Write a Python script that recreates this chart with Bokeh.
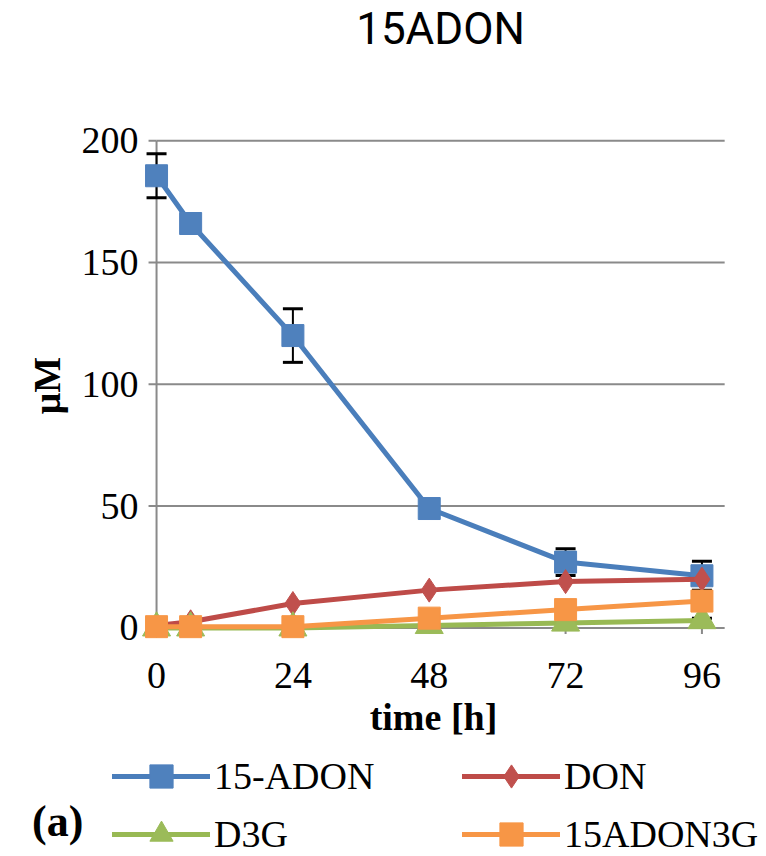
import math
from bokeh.plotting import figure
from bokeh.models import (ColumnDataSource, FixedTicker, Whisker, TeeHead,
                          Legend, LegendItem, Label)
from bokeh.layouts import column
from bokeh.embed import file_html
from bokeh.resources import INLINE

# ---------------- data ----------------
times = [0, 6, 24, 48, 72, 96]
adon15 = [185.6, 166, 120, 49, 27, 21.4]
adon15_err = [9, 0, 11, 0, 5.5, 6]
don = [1, 2.5, 10, 15.5, 19, 20]
d3g = [0, 0, 0, 1, 2, 3]
d3g_err = [0, 0, 0, 0, 0, 1]
adon3g = [0.5, 0.5, 0.5, 4, 7.5, 11]

x_ticks = [0, 24, 48, 72, 96]
y_ticks = [0, 50, 100, 150, 200]
x_max = 100

title_text = "15ADON"
x_label = "time [h]"
y_label = "\u03bcM"
panel_tag = "(a)"

SERIF = "Liberation Serif"
GRAY = "#8a8a8a"

series = [
    ("15-ADON", adon15, "#4A7EBB", "#4F81BD", "square", 22),
    ("DON", don, "#BE4B48", "#C0504D", "diamond", 24),
    ("D3G", d3g, "#98B954", "#9BBB59", "triangle", 28),
    ("15ADON3G", adon3g, "#F79646", "#F79646", "square", 22),
]

W = 766
BL = 139         # left border of the chart (frame left edge)
FW, FH = 588, 514
BR = W - BL - FW
TH = 60          # title strip height
LH = 112         # legend strip height

def strip(h):
    f = figure(frame_width=W, frame_height=h, x_range=(0, 1), y_range=(0, 1),
               x_axis_type=None, y_axis_type=None, min_border=0,
               output_backend="svg", toolbar_location=None)
    f.outline_line_color = None
    f.xgrid.grid_line_color = None
    f.ygrid.grid_line_color = None
    return f

# ---------------- title strip ----------------
t = strip(TH)
t.add_layout(Label(x=440 - BL, y=TH - 28.5, x_units="screen", y_units="screen",
                   text=title_text, text_font="Roboto", text_font_size="44px",
                   text_color="black", text_align="center",
                   text_baseline="middle"))

# ---------------- main chart ----------------
XR = (-3, 100.5)
YR = (-6, 205)
px_x = FW / (XR[1] - XR[0])
px_y = FH / (YR[1] - YR[0])

p = figure(frame_width=FW, frame_height=FH, x_range=XR, y_range=YR,
           min_border_left=BL, min_border_right=BR,
           min_border_top=128 - TH, min_border_bottom=102,
           output_backend="svg", toolbar_location=None, title=None)
p.outline_line_color = None
p.xgrid.grid_line_color = None
p.ygrid.grid_line_color = None

# gridlines (the zero line is the axis)
gy = y_ticks[1:]
p.segment(x0=[0] * len(gy), y0=gy, x1=[x_max] * len(gy), y1=gy,
          line_color=GRAY, line_width=2, level="underlay")
# axis lines and tick marks at the data zero
p.segment(x0=[0, 0], y0=[0, 0], x1=[0, x_max], y1=[y_ticks[-1], 0],
          line_color=GRAY, line_width=2, level="underlay")
p.segment(x0=[-8 / px_x] * len(y_ticks), y0=y_ticks,
          x1=[0] * len(y_ticks), y1=y_ticks,
          line_color=GRAY, line_width=2, level="underlay")
p.segment(x0=x_ticks, y0=[0] * len(x_ticks), x1=x_ticks,
          y1=[-6 / px_y] * len(x_ticks),
          line_color=GRAY, line_width=2, level="underlay")

# axes (labels only)
xa = p.xaxis[0]
xa.ticker = FixedTicker(ticks=x_ticks)
xa.axis_line_color = None
xa.major_tick_line_color = None
xa.minor_tick_line_color = None
xa.major_tick_out = 0
xa.major_tick_in = 0
xa.major_label_text_font = SERIF
xa.major_label_text_font_size = "38px"
xa.major_label_text_color = "black"
xa.major_label_standoff = 20
xa.axis_label = x_label
xa.axis_label_text_font = SERIF
xa.axis_label_text_font_size = "38px"
xa.axis_label_text_font_style = "bold"
xa.axis_label_text_color = "black"
xa.axis_label_standoff = 5

ya = p.yaxis[0]
ya.ticker = FixedTicker(ticks=y_ticks)
ya.axis_line_color = None
ya.major_tick_line_color = None
ya.minor_tick_line_color = None
ya.major_tick_out = 0
ya.major_tick_in = 0
ya.major_label_text_font = SERIF
ya.major_label_text_font_size = "38px"
ya.major_label_text_color = "black"
ya.major_label_standoff = 1
ya.axis_label = y_label
ya.axis_label_text_font = SERIF
ya.axis_label_text_font_size = "38px"
ya.axis_label_text_font_style = "bold"
ya.axis_label_text_color = "black"
ya.axis_label_standoff = 11

# error bars
def add_err(vals, errs):
    bx = [tt for tt, e in zip(times, errs) if e > 0]
    up = [v + e for v, e in zip(vals, errs) if e > 0]
    lo = [v - e for v, e in zip(vals, errs) if e > 0]
    src = ColumnDataSource(dict(base=bx, upper=up, lower=lo))
    w = Whisker(source=src, base="base", upper="upper", lower="lower",
                dimension="height", line_color="black", line_width=2,
                upper_head=TeeHead(size=20, line_color="black", line_width=3),
                lower_head=TeeHead(size=20, line_color="black", line_width=3),
                level="underlay")
    p.add_layout(w)

add_err(adon15, adon15_err)
add_err(d3g, d3g_err)

for name, vals, lc, mc, mk, sz in series:
    p.line(times, vals, line_color=lc, line_width=5, line_cap="round",
           line_join="round")
    p.scatter(times, vals, marker=mk, size=sz, fill_color=mc, line_color=mc)

# ---------------- legend strip ----------------
q = strip(LH)

items = []
for name, vals, lc, mc, mk, sz in series:
    lr = q.line([math.nan], [math.nan], line_color=lc, line_width=5,
                line_cap="round")
    sr = q.scatter([math.nan], [math.nan], marker=mk, fill_color=mc,
                   line_color=mc)
    items.append(LegendItem(label=name, renderers=[lr, sr]))

def make_legend(its, x, y):
    return Legend(items=its, location=(x, y), glyph_width=98, glyph_height=58,
                  label_standoff=4, spacing=0, padding=0, margin=0,
                  border_line_color=None, background_fill_alpha=0,
                  label_text_font=SERIF, label_text_font_size="38px",
                  label_text_color="black",
                  label_text_baseline="middle", label_height=58)

# rows centred at 776 and 834 in the page, strip ends at 856
q.add_layout(make_legend([items[0], items[2]], 112, -(834 + 29 - 856)))
q.add_layout(make_legend([items[1], items[3]], 462, -(834 + 29 - 856)))

# panel tag "(a)", drawn as a glyph-less legend entry
ghost = q.scatter([math.nan], [math.nan], marker="square", fill_alpha=0,
                  line_alpha=0)
q.add_layout(Legend(items=[LegendItem(label=panel_tag, renderers=[ghost])],
                    location=(31, 856 - 822 - 25), glyph_width=1,
                    glyph_height=50, label_standoff=0, padding=0, margin=0,
                    border_line_color=None, background_fill_alpha=0,
                    label_text_font=SERIF, label_text_font_size="44px",
                    label_text_font_style="bold", label_text_color="black",
                    label_text_baseline="middle", label_height=50))

open("out.html", "w").write(file_html(column(t, p, q), INLINE))
